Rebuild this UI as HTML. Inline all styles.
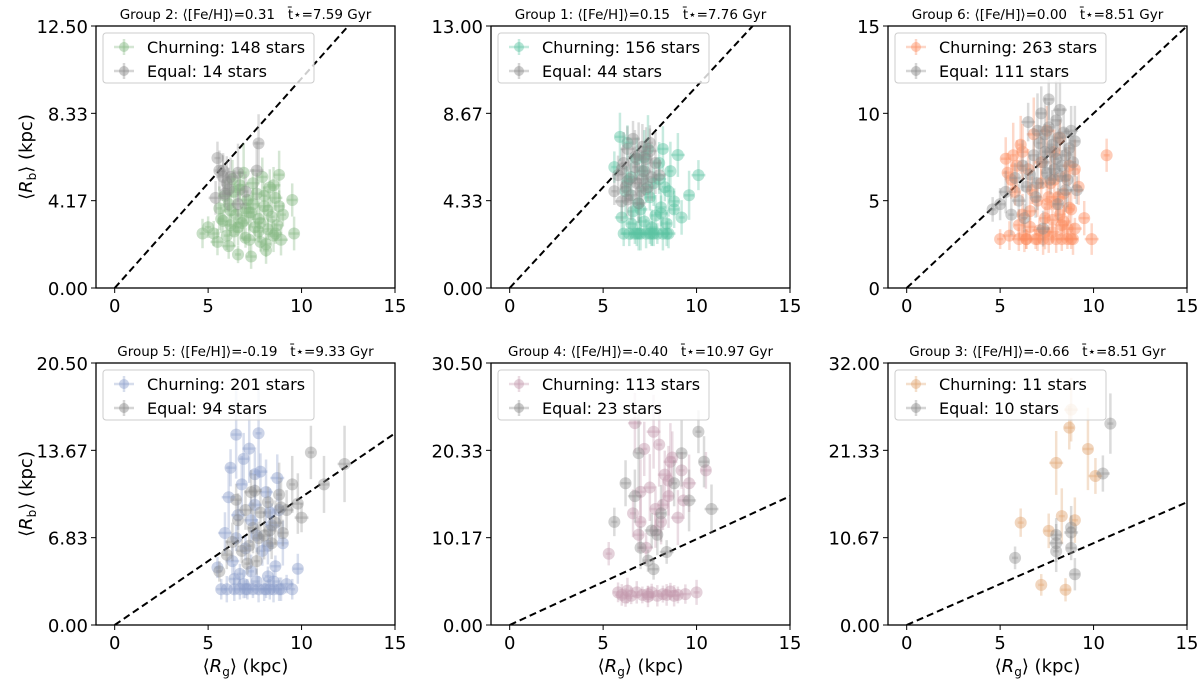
<!DOCTYPE html>
<html><head><meta charset="utf-8"><style>
body{margin:0;background:#fff;}
svg{font-family:"DejaVu Sans","Liberation Sans",sans-serif;}
text{white-space:pre;}
</style></head><body>
<svg id="chart" width="1200" height="685"></svg>
<script>
// ---- data ----
const g2ChurnX=[5.0,5.3,5.5,5.6,5.8,5.9,6.0,6.1,6.2,6.3,6.4,6.5,6.6,6.7,6.8,6.9,7.0,7.1,7.2,7.3,7.4,7.5,7.6,7.7,7.8,7.9,8.0,8.1,8.2,8.3,8.4,8.5,8.6,8.7,8.8,8.9,9.0,9.5,6.2,6.6,7.0,7.4,7.8,8.2,8.6,5.7,6.4,7.2,8.0,8.8,6.1,6.9,7.7,8.5,4.7,9.6,6.7,7.3,8.1];
const g2ChurnY=[2.9,2.6,2.2,3.8,3.2,4.4,2.5,4.0,3.0,5.2,2.7,3.5,1.6,4.7,3.1,5.5,2.4,4.2,3.6,1.5,5.0,2.9,4.5,3.3,2.2,5.3,3.9,1.8,2.8,4.8,3.4,2.5,4.3,3.0,5.4,2.3,3.5,4.2,3.7,2.9,3.8,4.0,3.1,3.7,2.6,3.3,4.6,2.3,4.4,3.9,2.0,3.2,2.7,4.9,2.6,2.6,4.9,3.6,2.1];
const g2EqX=[5.5,5.6,5.8,6.0,5.9,5.4,6.1,6.6,6.6,7.0,7.7,7.6,5.8,6.2];
const g2EqY=[6.2,5.6,5.3,5.0,4.5,4.3,4.7,5.5,4.0,4.6,6.9,5.6,5.6,5.3];

const g1ChurnX=[5.6,5.9,6.0,6.2,6.3,6.4,6.5,6.6,6.7,6.8,6.9,7.0,7.1,7.2,7.3,7.4,7.5,7.6,7.7,7.8,7.9,8.0,8.1,8.2,8.3,8.4,8.5,8.6,8.8,9.0,9.2,9.6,10.1,6.1,6.5,6.9,7.3,7.7,8.1,8.5,6.3,6.8,7.2,7.6,8.0,8.4,8.8,7.0,7.5,8.2];
const g1ChurnY=[6.0,7.5,3.5,4.8,7.2,2.7,5.5,3.8,2.7,6.4,4.2,2.7,5.8,3.3,2.7,6.9,4.5,2.7,5.2,3.6,2.7,6.2,4.0,2.7,5.0,3.2,2.7,5.8,4.3,6.6,3.5,4.6,5.6,2.7,3.2,2.7,4.9,2.7,3.7,4.8,5.3,2.7,6.5,3.0,5.4,2.7,3.9,3.9,2.7,6.9];
const g1EqX=[5.6,5.8,6.0,6.1,6.2,6.3,6.4,6.5,6.6,6.7,6.8,6.9,7.0,7.1,7.2,7.3,7.4,7.5,7.6,7.8,8.0,6.3,6.7,7.1,7.5,6.0,6.9];
const g1EqY=[4.8,5.6,4.3,6.2,5.0,6.9,5.4,4.6,7.4,6.0,5.2,6.6,4.8,7.0,5.8,6.4,5.0,6.8,5.5,6.2,5.6,4.4,6.5,5.4,7.2,5.9,4.2];

const g6ChurnX=[5.0,5.3,5.5,5.7,5.8,6.0,6.1,6.2,6.4,6.5,6.6,6.8,6.9,7.0,7.2,7.3,7.4,7.5,7.6,7.7,7.8,7.9,8.0,8.1,8.2,8.3,8.4,8.5,8.6,8.7,8.8,8.9,9.0,9.2,9.5,9.9,10.7,5.4,5.9,6.3,6.7,7.1,7.5,7.9,8.3,8.7,6.0,6.6,7.2,7.8,8.4,9.0,6.4,7.0,7.6,8.2,8.8,5.6,6.2,7.4,8.0,8.6];
const g6ChurnY=[2.8,7.4,3.0,7.6,5.5,2.8,8.2,4.2,2.8,6.8,3.5,8.8,2.8,5.0,7.2,2.8,4.0,9.0,2.8,6.0,3.2,7.8,2.8,5.2,8.6,2.8,3.8,6.4,2.8,7.0,4.5,2.8,3.4,5.8,4.0,2.8,7.6,6.6,7.0,3.0,5.6,3.3,4.8,6.2,3.6,4.6,3.6,4.4,6.0,3.9,5.4,6.8,2.8,2.8,5.2,4.2,2.8,6.2,7.8,3.2,4.8,3.4];
const g6EqX=[4.6,5.0,5.3,5.6,5.8,6.0,6.2,6.4,6.5,6.6,6.8,7.0,7.1,7.2,7.3,7.4,7.5,7.6,7.7,7.8,7.9,8.0,8.1,8.2,8.3,8.4,8.5,8.6,8.7,8.8,8.9,9.0,9.1,6.3,6.9,7.3,7.7,8.1,8.5,7.0,7.6,8.2,7.4,8.0];
const g6EqY=[4.5,4.8,5.5,4.2,6.3,5.0,7.0,5.8,9.5,6.5,7.6,6.0,8.3,10.0,7.2,8.8,6.6,9.2,7.8,8.2,6.8,7.4,8.6,10.2,7.0,8.9,7.6,6.2,8.0,9.0,7.2,8.4,5.6,4.0,5.2,3.4,6.2,4.8,5.6,9.0,10.8,6.4,7.8,9.6];

const g5ChurnX=[5.5,5.7,5.9,6.0,6.2,6.3,6.4,6.5,6.6,6.7,6.8,6.9,7.0,7.1,7.2,7.3,7.4,7.5,7.6,7.7,7.8,7.9,8.0,8.1,8.2,8.3,8.4,8.5,8.6,8.7,8.8,9.0,9.2,9.5,9.8,6.1,6.5,6.9,7.3,7.7,8.1,8.5,8.9,6.4,7.0,7.6,8.2,8.8,6.7,7.5,8.3];
const g5ChurnY=[4.5,2.8,7.2,2.8,12.3,5.0,2.8,14.9,8.6,2.8,11.0,3.2,6.0,2.8,13.8,4.2,2.8,9.4,3.4,2.8,12.0,5.8,2.8,10.4,3.8,2.8,7.8,2.8,4.6,11.5,2.8,6.4,3.2,2.8,4.4,10.0,6.8,13.0,8.2,15.0,2.8,3.4,2.8,3.6,2.8,7.0,6.2,9.0,4.0,11.8,8.8];
const g5EqX=[5.6,6.0,6.3,6.6,6.8,7.0,7.2,7.4,7.5,7.6,7.8,8.0,8.2,8.4,8.6,8.8,9.0,9.2,9.5,9.8,10.0,10.5,11.2,12.3,7.1,7.7,8.3,8.9,6.5,7.3];
const g5EqY=[4.2,5.5,6.5,8.2,5.8,9.0,6.2,7.6,10.5,5.0,8.8,7.0,9.6,6.4,8.0,10.2,7.2,9.0,11.0,9.5,8.4,13.5,11.0,12.6,4.8,6.8,7.4,9.2,9.8,10.4];

const g4ChurnX=[5.3,5.8,6.0,6.3,6.5,6.7,6.8,7.0,7.1,7.2,7.4,7.5,7.6,7.8,7.9,8.0,8.2,8.3,8.4,8.5,8.6,8.7,8.8,9.0,9.2,9.4,9.6,10.0,10.5,6.2,6.6,7.0,7.4,7.8,8.2,8.6,9.0,6.9,7.7,8.5,9.3,7.3,8.1];
const g4ChurnY=[8.3,3.8,3.5,4.0,3.4,23.5,3.8,12.0,3.5,20.5,3.3,16.0,3.8,13.5,3.4,21.0,3.6,17.5,3.5,15.0,3.9,19.5,3.4,12.5,18.0,3.6,16.5,3.8,18.0,3.2,13.0,15.5,3.6,11.0,14.0,19.0,3.5,10.5,22.5,16.8,14.5,9.0,12.0];
const g4EqX=[5.6,6.2,6.7,7.0,7.4,7.6,7.9,8.1,8.4,8.8,9.2,9.6,10.1,10.4,10.8,6.9,7.7];
const g4EqY=[12.0,16.5,15.0,9.0,7.5,11.0,10.5,13.0,8.5,16.5,20.0,14.5,22.5,19.0,13.5,20.0,6.5];

const g3ChurnX=[6.1,7.6,8.0,8.3,8.7,8.8,9.0,9.7,10.1,7.2,8.5];
const g3ChurnY=[12.5,11.5,19.8,13.3,24.1,26.3,12.8,21.5,18.2,4.9,4.3];
const g3EqX=[5.8,8.0,8.0,8.0,8.8,8.8,8.8,9.0,10.5,10.9];
const g3EqY=[8.2,11.0,10.0,9.0,9.4,11.3,11.9,6.2,18.5,24.6];

const yTicks=[["0.00","4.17","8.33","12.50"],["0.00","4.33","8.67","13.00"],["0","5","10","15"],["0.00","6.83","13.67","20.50"],["0.00","10.17","20.33","30.50"],["0.00","10.67","21.33","32.00"]];
const yMaxes=[12.5,13,15,20.5,30.5,32];
const xTicks=[0,5,10,15];
const titles=["Group 2: ⟨[Fe/H]⟩=0.31","Group 1: ⟨[Fe/H]⟩=0.15","Group 6: ⟨[Fe/H]⟩=0.00","Group 5: ⟨[Fe/H]⟩=-0.19","Group 4: ⟨[Fe/H]⟩=-0.40","Group 3: ⟨[Fe/H]⟩=-0.66"];
const ages=["7.59","7.76","8.51","9.33","10.97","8.51"];
const churnCounts=[148,156,263,201,113,11];
const equalCounts=[14,44,111,94,23,10];

const churnX=[g2ChurnX,g1ChurnX,g6ChurnX,g5ChurnX,g4ChurnX,g3ChurnX];
const churnY=[g2ChurnY,g1ChurnY,g6ChurnY,g5ChurnY,g4ChurnY,g3ChurnY];
const eqX=[g2EqX,g1EqX,g6EqX,g5EqX,g4EqX,g3EqX];
const eqY=[g2EqY,g1EqY,g6EqY,g5EqY,g4EqY,g3EqY];
const colors=["#86b882","#5cc4a2","#fc8d62","#8da0cb","#c49aae","#e0a570"];

// ---- drawing ----
const NS="http://www.w3.org/2000/svg";
const svg=document.getElementById('chart');
function mk(tag,attrs,parent){const e=document.createElementNS(NS,tag);for(const k in attrs)e.setAttribute(k,attrs[k]);(parent||svg).appendChild(e);return e;}
const lefts=[96,491,888],tops=[26,363],W=299,H=262;
for(let p=0;p<6;p++){
  const L=lefts[p%3],T=tops[Math.floor(p/3)],ymax=yMaxes[p];
  const g=mk('g',{});
  
  
  const sx=v=>L+(v+1)/16*W, sy=v=>T+H-v/ymax*H;
  const clipId='c'+p;
  const cp=mk('clipPath',{id:clipId},g);mk('rect',{x:L,y:T,width:W,height:H},cp);
  const plot=mk('g',{'clip-path':'url(#'+clipId+')'},g);
  const dl=mk('line',{x1:sx(0),y1:sy(0),x2:sx(40),y2:sy(40),stroke:'#000','stroke-width':2,'stroke-dasharray':'7,4'},plot);
  
  
  function series(xs,ys,col,name,op){
    const sg=mk('g',{},plot);
    
    
    for(let i=0;i<xs.length;i++){
      const x=sx(xs[i]),y=sy(ys[i]);const ey=(0.08+0.04*(i%4))*ys[i]/ymax*H+6;const ex=3+(i%3)*2;
      mk('line',{x1:x,y1:y-ey,x2:x,y2:y+ey,stroke:col,'stroke-width':2.5,opacity:op*0.75},sg);
      mk('line',{x1:x-ex,y1:y,x2:x+ex,y2:y,stroke:col,'stroke-width':2.5,opacity:op*0.75},sg);
      const c=mk('circle',{cx:x,cy:y,r:6,fill:col,opacity:op},sg);
      
      
    }
  }
  series(churnX[p],churnY[p],colors[p],'churning-series',0.45);
  series(eqX[p],eqY[p],'#8a8a8a','equal-series',0.4);
  mk('rect',{x:L,y:T,width:W,height:H,fill:'none',stroke:'#000','stroke-width':1.3},g);
  xTicks.forEach(v=>{const x=sx(v);mk('line',{x1:x,y1:T+H,x2:x,y2:T+H+5,stroke:'#000'},g);
    const t=mk('text',{x:x,y:T+H+24,'text-anchor':'middle','font-size':18},g);t.textContent=v;
    });
  yTicks[p].forEach((s,i)=>{const y=sy(ymax*i/3);mk('line',{x1:L-5,y1:y,x2:L,y2:y,stroke:'#000'},g);
    const t=mk('text',{x:L-8,y:y+7,'text-anchor':'end','font-size':18},g);t.textContent=s;
    });
  const tt=mk('text',{x:L+W/2,y:T-7,'text-anchor':'middle','font-size':13.5},g);
  tt.textContent=titles[p]+'   t̄⋆='+ages[p]+' Gyr';
  
  const lg=mk('g',{},g);
  
  
  mk('rect',{x:L+7,y:T+7,width:211,height:50,rx:3,fill:'#fff',stroke:'#ccc','fill-opacity':0.8},lg);
  [[colors[p],'Churning: '+churnCounts[p]+' stars'],['#8a8a8a','Equal: '+equalCounts[p]+' stars']].forEach((e,i)=>{
    const y=T+21+i*24,x=L+28;
    mk('line',{x1:x-10,y1:y,x2:x+10,y2:y,stroke:e[0],'stroke-width':2.5,opacity:0.35},lg);
    mk('line',{x1:x,y1:y-8,x2:x,y2:y+8,stroke:e[0],'stroke-width':2.5,opacity:0.35},lg);
    mk('circle',{cx:x,cy:y,r:5,fill:e[0],opacity:0.45},lg);
    const t=mk('text',{x:L+51,y:y+6,'font-size':16},lg);t.textContent=e[1];
    
  });
  if(p%3===0){const yl=mk('text',{x:0,y:0,'font-size':18,'text-anchor':'middle',transform:'translate(32,'+(T+H/2)+') rotate(-90)'},g);
    yl.innerHTML='⟨<tspan font-style="italic">R</tspan><tspan font-size="12" dy="4">b</tspan><tspan dy="-4">⟩ (kpc)</tspan>';
    }
  if(p>=3){const xl=mk('text',{x:L+W/2,y:672,'font-size':18,'text-anchor':'middle'},g);
    xl.innerHTML='⟨<tspan font-style="italic">R</tspan><tspan font-size="12" dy="4">g</tspan><tspan dy="-4">⟩ (kpc)</tspan>';
    }
}
</script>
</body></html>
